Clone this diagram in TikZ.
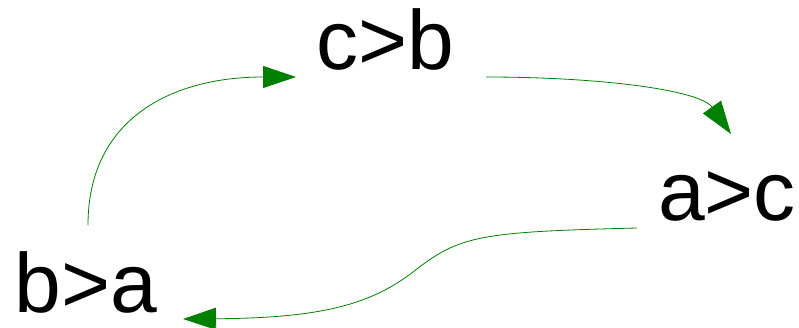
\documentclass[tikz,border=0pt]{standalone}
\usepackage{fontspec}
\setmainfont{Liberation Sans}
\usetikzlibrary{arrows.meta}
\definecolor{arrowgreen}{RGB}{0,128,0}

\begin{document}
\begin{tikzpicture}[x=1pt, y=-1pt,
    pref/.style={anchor=base, inner sep=0pt, text depth=0pt,
      font=\fontsize{84}{100}\selectfont},
    flow/.style={draw=arrowgreen, line width=0.8pt,
      -{Triangle[length=33pt, width=22pt, fill=arrowgreen]}}]
  \useasboundingbox (0,0) rectangle (799,328);
  % preferences
  \node[pref] (cb) at (385,70) {c>b};
  \node[pref] (ac) at (727,221) {a>c};
  \node[pref] (ba) at (86,312) {b>a};
  % connector ends
  \coordinate (ba-out) at (88,225);
  \coordinate (cb-in) at (296,77);
  \coordinate (cb-out) at (486,77);
  \coordinate (ac-in) at (731,134);
  \coordinate (ac-out) at (637,228);
  \coordinate (ac-mid) at (413,272);
  \coordinate (ba-in) at (183,319);
  % cycle
  \draw[flow] (ba-out) .. controls (88,120) and (170,77) .. (cb-in);
  \draw[flow] (cb-out) .. controls (600,77) and (700,90) .. (ac-in);
  \draw[flow] (ac-out) .. controls (480,232) and (460,235) .. (ac-mid)
    .. controls (370,305) and (320,318) .. (ba-in);
\end{tikzpicture}
\end{document}
